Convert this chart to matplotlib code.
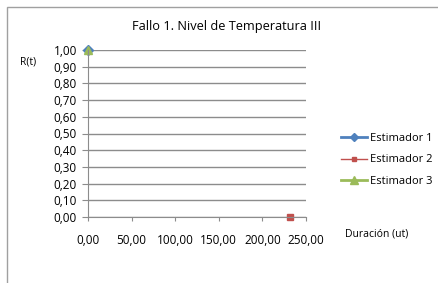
import matplotlib
matplotlib.use("Agg")
import matplotlib.pyplot as plt
from matplotlib.patches import Rectangle

plt.rcParams['font.family'] = ['Open Sans', 'DejaVu Sans']

# datos
est1_t = [0.0]
est1_r = [1.0]
est2_t = [232.0]
est2_r = [0.0]
est3_t = [0.0]
est3_r = [1.0]

xticks = [0, 50, 100, 150, 200, 250]
yticks = [i / 10 for i in range(11)]

fig = plt.figure(figsize=(4.39, 2.83), dpi=100)
fig.patches.append(Rectangle((7 / 439, -0.1), 1.2, (283 - 7) / 283 + 0.1,
                             transform=fig.transFigure, fill=False,
                             edgecolor='#a0a0a0', lw=1))

ax = fig.add_axes([88 / 439, 66 / 283, 218 / 439, 167 / 283])

ax.plot(est1_t, est1_r, color='#4F81BD', marker='D', ms=5, lw=2, label='Estimador 1', clip_on=False)
ax.plot(est2_t, est2_r, color='#C0504D', marker='s', ms=4, lw=1, label='Estimador 2', clip_on=False)
ax.plot(est3_t, est3_r, color='#9BBB59', marker='^', ms=6, lw=2, label='Estimador 3', clip_on=False)

ax.set_xlim(0, 250)
ax.set_ylim(0, 1)
ax.set_xticks(xticks)
ax.set_yticks(yticks)
ax.set_yticklabels([('%.2f' % v).replace('.', ',') for v in yticks])
ax.set_xticklabels([('%.2f' % v).replace('.', ',') for v in xticks])
ax.yaxis.grid(True, color='#8c8c8c', lw=1)
ax.set_axisbelow(True)
for s in ['top', 'right']:
    ax.spines[s].set_visible(False)
for s in ['left', 'bottom']:
    ax.spines[s].set_color('#8c8c8c')
ax.tick_params(axis='x', length=3, color='#8c8c8c', pad=9, labelsize=8.5)
ax.tick_params(axis='y', length=4, color='#8c8c8c', pad=4, labelsize=8.5)

fig.text(0.515, 0.908, 'Fallo 1. Nivel de Temperatura III', ha='center', va='center', fontsize=9.2)
fig.text(0.064, 0.781, 'R(t)', ha='center', va='center', fontsize=7.5)
fig.text(0.859, 0.173, 'Duración (ut)', ha='center', va='center', fontsize=7.5)

leg = fig.legend(loc='center left', bbox_to_anchor=(331 / 439, 123 / 283), frameon=False,
                 fontsize=8, handlelength=2.3, handletextpad=0.3, labelspacing=0.95,
                 markerscale=0.85)

fig.savefig('out.png', dpi=100)
